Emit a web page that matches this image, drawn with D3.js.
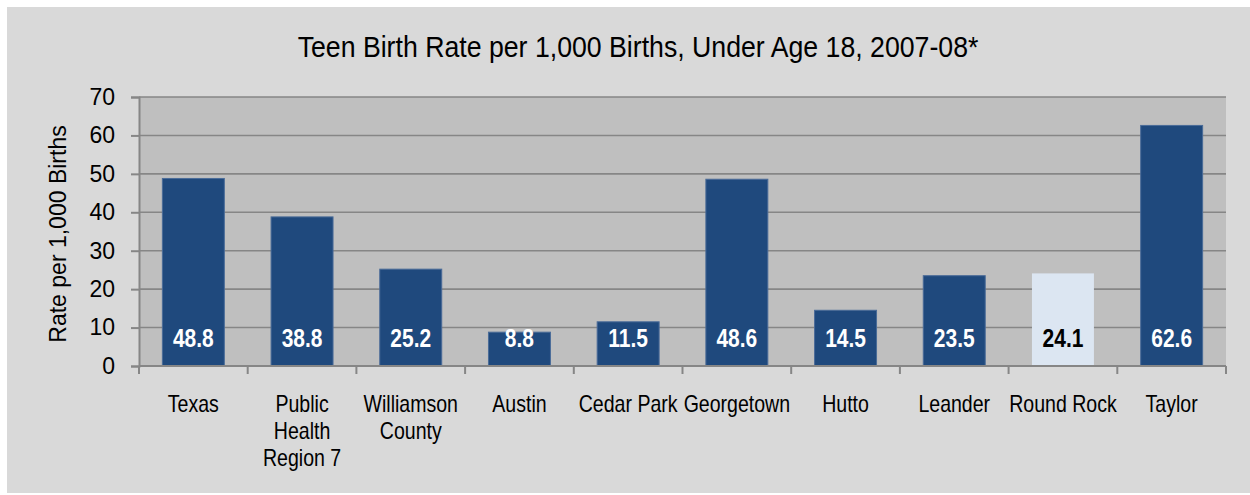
<!DOCTYPE html>
<html>
<head>
<meta charset="utf-8">
<script src="https://cdn.jsdelivr.net/npm/d3@7"></script>
<style>
    body { margin: 0; background: #ffffff; }
    svg text { font-family: "Liberation Sans", Arial, sans-serif; }
</style>
</head>
<body>
<svg id="chart" width="1250" height="495"></svg>
<script>
const categories = [
    ["Texas"],
    ["Public", "Health", "Region 7"],
    ["Williamson", "County"],
    ["Austin"],
    ["Cedar Park"],
    ["Georgetown"],
    ["Hutto"],
    ["Leander"],
    ["Round Rock"],
    ["Taylor"]
]
const rates = [48.8, 38.8, 25.2, 8.8, 11.5, 48.6, 14.5, 23.5, 24.1, 62.6]
const yTicks = [0, 10, 20, 30, 40, 50, 60, 70]
const highlighted = "Round Rock"

// no narrow font installed, so texts are squeezed horizontally instead
function narrow(x, y, s) {
    return "translate(" + x + "," + y + ") scale(" + s + ",1)"
}

function drawChart() {
    const svg = d3.select("#chart")
    const plot = { left: 139, right: 1226, top: 97, bottom: 366 }

    // outer chart background
    svg.append("rect")
        .attr("x", 7).attr("y", 7)
        .attr("width", 1243).attr("height", 486)
        .attr("fill", "#d9d9d9")

    svg.append("rect")
        .attr("x", plot.left).attr("y", plot.top)
        .attr("width", plot.right - plot.left).attr("height", plot.bottom - plot.top)
        .attr("fill", "#bfbfbf")

    const names = categories.map(c => c.join(" "))

    const x = d3.scaleBand()
        .domain(names)
        .range([plot.left, plot.right])
        .paddingInner(0.43)
        .paddingOuter(0.215)

    const y = d3.scaleLinear()
        .domain([0, 70])
        .range([plot.bottom, plot.top])

    // gridlines
    svg.append("g")
        .selectAll("line")
        .data(yTicks.filter(t => t > 0))
        .enter()
        .append("line")
        .attr("x1", plot.left).attr("x2", plot.right)
        .attr("y1", d => y(d)).attr("y2", d => y(d))
        .attr("stroke", "#868686")
        .attr("stroke-width", 1.6)

    // bars
    svg.append("g")
        .selectAll("rect")
        .data(rates)
        .enter()
        .append("rect")
        .attr("x", (d, i) => x(names[i]))
        .attr("y", d => y(d))
        .attr("width", x.bandwidth())
        .attr("height", d => plot.bottom - y(d))
        .attr("fill", (d, i) => names[i] === highlighted ? "#dce6f2" : "#1f497d")
        .attr("stroke", (d, i) => names[i] === highlighted ? "none" : "#4a6b98")
        .attr("stroke-width", 1)

    // value labels
    svg.append("g")
        .selectAll("text")
        .data(rates)
        .enter()
        .append("text")
        .attr("transform", (d, i) => narrow(x(names[i]) + x.bandwidth() / 2, 347, 0.84))
        .attr("text-anchor", "middle")
        .attr("font-size", 25)
        .attr("font-weight", "bold")
        .attr("fill", (d, i) => names[i] === highlighted ? "#000000" : "#ffffff")
        .text(d => d.toFixed(1))

    // y axis
    const yAxis = d3.axisLeft(y)
        .tickValues(yTicks)
        .tickSize(8)
        .tickPadding(16)
        .tickFormat(d3.format("d"))

    const yG = svg.append("g")
        .attr("transform", "translate(" + plot.left + ",0)")
        .call(yAxis)
    yG.select(".domain").attr("stroke", "#868686").attr("stroke-width", 2)
    yG.selectAll(".tick line").attr("stroke", "#868686").attr("stroke-width", 2)
    yG.selectAll(".tick text")
        .attr("font-size", 23)
        .attr("fill", "#000000")
        .attr("font-family", null)

    // x axis: ticks at category boundaries
    const bounds = d3.range(names.length + 1).map(i => plot.left + i * (plot.right - plot.left) / names.length)
    svg.append("line")
        .attr("x1", plot.left).attr("x2", plot.right)
        .attr("y1", plot.bottom).attr("y2", plot.bottom)
        .attr("stroke", "#868686").attr("stroke-width", 2)
    svg.append("g")
        .selectAll("line")
        .data(bounds)
        .enter()
        .append("line")
        .attr("x1", d => d).attr("x2", d => d)
        .attr("y1", plot.bottom).attr("y2", plot.bottom + 8)
        .attr("stroke", "#868686").attr("stroke-width", 2)

    // category labels
    const catG = svg.append("g")
        .selectAll("text")
        .data(categories)
        .enter()
        .append("text")
        .attr("transform", (d, i) => narrow(x(names[i]) + x.bandwidth() / 2, 412, 0.85))
        .attr("text-anchor", "middle")
        .attr("font-size", 23)
        .attr("fill", "#000000")
    catG.selectAll("tspan")
        .data(d => d)
        .enter()
        .append("tspan")
        .attr("x", 0)
        .attr("dy", (d, i) => i === 0 ? 0 : 27)
        .text(d => d)

    // title
    svg.append("text")
        .attr("transform", narrow(638, 57, 0.89))
        .attr("text-anchor", "middle")
        .attr("font-size", 30)
        .attr("fill", "#000000")
        .text("Teen Birth Rate per 1,000 Births, Under Age 18, 2007-08*")

    // y axis title
    svg.append("text")
        .attr("transform", "translate(66," + 234 + ") rotate(-90)")
        .attr("text-anchor", "middle")
        .attr("font-size", 23)
        .attr("fill", "#000000")
        .text("Rate per 1,000 Births")
}

drawChart()
</script>
</body>
</html>
